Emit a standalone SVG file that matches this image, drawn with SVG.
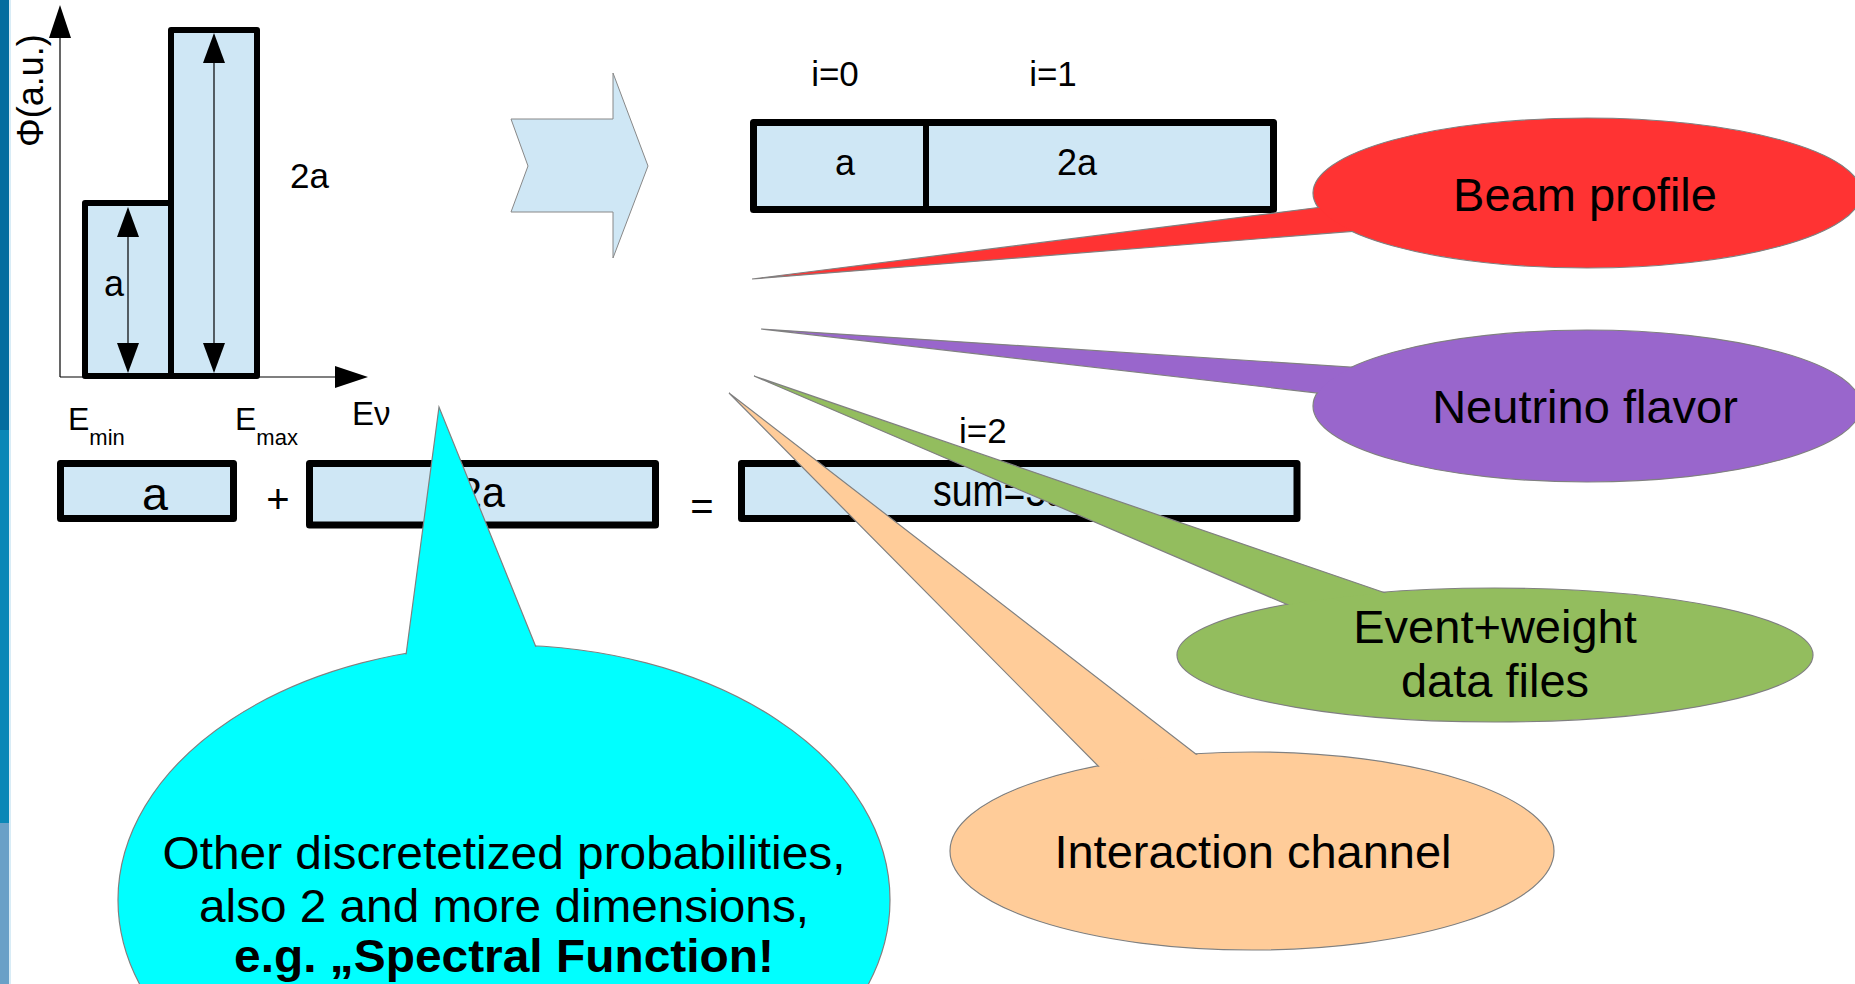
<svg xmlns="http://www.w3.org/2000/svg" width="1855" height="984" viewBox="0 0 1855 984">
<style>
text{font-family:"Liberation Sans",Arial,sans-serif;fill:#000}
.box{fill:#cfe7f5;stroke:#000;stroke-width:7;stroke-linejoin:round}
.cbox{fill:#cfe7f5;stroke:#000;stroke-width:6;stroke-linejoin:round}
.thin{stroke:#000;stroke-width:1.2;fill:none}
.ah{fill:#000}
.lbl{font-size:47px;text-anchor:middle}
.out{stroke:#808080;stroke-width:1.2}
</style>
<rect width="1855" height="984" fill="#fff"/>
<g id="strip">
<rect x="0" y="0" width="9" height="430" fill="#056d9f"/>
<rect x="0" y="430" width="9" height="393" fill="#0a87b7"/>
<rect x="0" y="823" width="9" height="161" fill="#6aa0c7"/>
<rect x="9" y="0" width="2" height="984" fill="#d8ecf6"/>
</g>
<g id="chart">
<line class="thin" x1="60" y1="36" x2="60" y2="377"/>
<line class="thin" x1="60" y1="377" x2="337" y2="377"/>
<polygon class="ah" points="60,5 49,38 71,38"/>
<polygon class="ah" points="368,377 335,366 335,388"/>
<rect class="cbox" x="85" y="203" width="86" height="173"/>
<rect class="cbox" x="171" y="30" width="86" height="346"/>
<line class="thin" x1="128" y1="230" x2="128" y2="350"/>
<polygon class="ah" points="128,207 117,237 139,237"/>
<polygon class="ah" points="128,373 117,343 139,343"/>
<line class="thin" x1="214" y1="55" x2="214" y2="350"/>
<polygon class="ah" points="214,33 203,63 225,63"/>
<polygon class="ah" points="214,373 203,343 225,343"/>
<text x="114" y="296" font-size="36" text-anchor="middle">a</text>
<text x="290" y="188" font-size="35">2a</text>
<text transform="translate(43,147) rotate(-90)" font-size="36">Φ(a.u.)</text>
<text x="68" y="430" font-size="32">E<tspan font-size="22" y="445">min</tspan></text>
<text x="235" y="430" font-size="32">E<tspan font-size="22" y="445">max</tspan></text>
<text x="352" y="425" font-size="33">Eν</text>
</g>
<g id="block-arrow">
<polygon points="511,119 613,119 613,73 648,166 613,258 613,212 511,212 528,166" fill="#cfe7f5" stroke="#888" stroke-width="1"/>
</g>
<g id="bins">
<rect class="box" x="753.5" y="122.5" width="520" height="87"/>
<line x1="926" y1="122" x2="926" y2="210" stroke="#000" stroke-width="6"/>
<text x="835" y="86" font-size="35" text-anchor="middle">i=0</text>
<text x="1053" y="86" font-size="35" text-anchor="middle">i=1</text>
<text x="845" y="175" font-size="36" text-anchor="middle">a</text>
<text x="1077" y="175" font-size="36" text-anchor="middle">2a</text>
</g>
<g id="sum-row">
<rect class="box" x="60.5" y="463.5" width="173" height="55"/>
<text x="155" y="510" font-size="46" text-anchor="middle" textLength="26" lengthAdjust="spacingAndGlyphs">a</text>
<text x="278" y="513" font-size="40" text-anchor="middle">+</text>
<rect class="box" x="309.5" y="463.5" width="346" height="61.5"/>
<text x="482" y="507" font-size="42" text-anchor="middle" textLength="46" lengthAdjust="spacingAndGlyphs">2a</text>
<text x="702" y="520" font-size="40" text-anchor="middle">=</text>
<rect class="box" x="741.5" y="463.5" width="555.5" height="55"/>
<text x="933" y="506" font-size="45" textLength="134" lengthAdjust="spacingAndGlyphs">sum=3a</text>
<text x="959" y="443" font-size="35">i=2</text>
</g>
<g id="callouts">
<g id="beam-profile">
<ellipse class="out" cx="1587" cy="193" rx="274" ry="75" fill="#ff3333"/>
<polygon class="out" points="752,279 1330,206 1370,230" fill="#ff3333"/>
<ellipse cx="1587" cy="193" rx="273" ry="74" fill="#ff3333"/>
<text class="lbl" x="1585" y="211">Beam profile</text>
</g>
<g id="neutrino-flavor">
<ellipse class="out" cx="1587" cy="406" rx="274" ry="76" fill="#9966cc"/>
<polygon class="out" points="761,329 1365,368 1335,395" fill="#9966cc"/>
<ellipse cx="1587" cy="406" rx="273" ry="75" fill="#9966cc"/>
<text class="lbl" x="1585" y="423">Neutrino flavor</text>
</g>
<g id="event-weight">
<ellipse class="out" cx="1495" cy="655" rx="318" ry="67" fill="#93bd5e"/>
<polygon class="out" points="754,376 1300,610 1400,598" fill="#93bd5e"/>
<ellipse cx="1495" cy="655" rx="317" ry="66" fill="#93bd5e"/>
<text class="lbl" x="1495" y="643">Event+weight</text>
<text class="lbl" x="1495" y="697">data files</text>
</g>
<g id="interaction-channel">
<ellipse class="out" cx="1252" cy="851" rx="302" ry="99" fill="#ffcc99"/>
<polygon class="out" points="729,393 1112,780 1210,765" fill="#ffcc99"/>
<ellipse cx="1252" cy="851" rx="301" ry="98" fill="#ffcc99"/>
<text class="lbl" x="1253" y="868">Interaction channel</text>
</g>
<g id="spectral">
<ellipse class="out" cx="504" cy="900" rx="386" ry="255" fill="#00ffff"/>
<polygon class="out" points="439,407 404,670 542,662" fill="#00ffff"/>
<ellipse cx="504" cy="900" rx="385" ry="254" fill="#00ffff"/>
<text class="lbl" x="504" y="869" textLength="683" lengthAdjust="spacingAndGlyphs">Other discretetized probabilities,</text>
<text class="lbl" x="504" y="922" textLength="610" lengthAdjust="spacingAndGlyphs">also 2 and more dimensions,</text>
<text class="lbl" x="504" y="972" font-weight="bold" textLength="540" lengthAdjust="spacingAndGlyphs">e.g. „Spectral Function!</text>
</g>
</g>
</svg>
